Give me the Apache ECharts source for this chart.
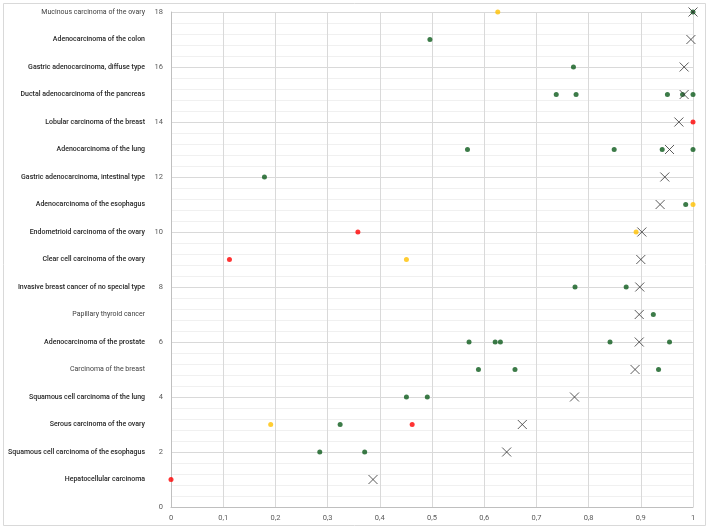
<!DOCTYPE html>
<html>
<head>
<meta charset="utf-8">
<script src="https://cdn.jsdelivr.net/npm/echarts@6/dist/echarts.min.js"></script>
<style>
html,body{margin:0;padding:0;background:#fff;}
#chart{width:709px;height:529px;}
</style>
</head>
<body>
<div id="chart"></div>
<script>
// Category names (y = 1 .. 18)
const categories = [
  "Hepatocellular carcinoma",
  "Squamous cell carcinoma of the esophagus",
  "Serous carcinoma of the ovary",
  "Squamous cell carcinoma of the lung",
  "Carcinoma of the breast",
  "Adenocarcinoma of the prostate",
  "Papillary thyroid cancer",
  "Invasive breast cancer of no special type",
  "Clear cell carcinoma of the ovary",
  "Endometrioid carcinoma of the ovary",
  "Adenocarcinoma of the esophagus",
  "Gastric adenocarcinoma, intestinal type",
  "Adenocarcinoma of the lung",
  "Lobular carcinoma of the breast",
  "Ductal adenocarcinoma of the pancreas",
  "Gastric adenocarcinoma, diffuse type",
  "Adenocarcinoma of the colon",
  "Mucinous carcinoma of the ovary"
];

const greenPoints = [
  [1.0,18],[0.496,17],[0.771,16],
  [0.738,15],[0.776,15],[0.951,15],[0.980,15],[1.0,15],
  [0.568,13],[0.849,13],[0.941,13],[1.0,13],
  [0.179,12],[0.986,11],
  [0.774,8],[0.872,8],[0.924,7],
  [0.571,6],[0.621,6],[0.631,6],[0.841,6],[0.955,6],
  [0.589,5],[0.659,5],[0.934,5],
  [0.451,4],[0.491,4],[0.324,3],[0.285,2],[0.371,2]
];
const redPoints = [[1.0,14],[0.358,10],[0.112,9],[0.462,3],[0,1]];
const orangePoints = [[0.626,18],[1.0,11],[0.891,10],[0.451,9],[0.191,3]];
const crossPoints = [
  [1.0,18],[0.996,17],[0.983,16],[0.983,15],[0.973,14],[0.955,13],
  [0.946,12],[0.937,11],[0.902,10],[0.900,9],[0.898,8],[0.897,7],
  [0.897,6],[0.889,5],[0.773,4],[0.673,3],[0.643,2],[0.387,1]
];

const xTicks = [0,0.1,0.2,0.3,0.4,0.5,0.6,0.7,0.8,0.9,1];
const yTicks = [0,2,4,6,8,10,12,14,16,18];

// style-only: labels drawn in regular weight
const regularLabels = ["Mucinous carcinoma of the ovary","Carcinoma of the breast","Papillary thyroid cancer"];

const FONT = '"Liberation Sans Narrow", "Roboto", sans-serif';

const chart = echarts.init(document.getElementById('chart'), null, {renderer:'canvas'});
chart.setOption({
  animation:false,
  backgroundColor:'#fff',
  graphic:[{type:'rect',shape:{x:3.5,y:3.5,width:702,height:522},style:{fill:'none',stroke:'#d9d9d9',lineWidth:1},silent:true,z:-1}],
  grid:{left:171,right:16,top:12,bottom:22,containLabel:false,outerBoundsMode:'none'},
  xAxis:{
    type:'value',min:0,max:1,interval:0.1,
    axisLine:{show:true,lineStyle:{color:'#bfbfbf'}},
    axisTick:{show:false},
    axisLabel:{color:'#595959',fontSize:7.5,fontFamily:FONT,margin:7,
      formatter:v=>{const t=xTicks.find(k=>Math.abs(k-v)<1e-9);return t===undefined?'':String(+t.toFixed(1)).replace('.',',');}},
    splitLine:{show:true,lineStyle:{color:'#d9d9d9'}}
  },
  yAxis:[{
    type:'value',min:0,max:18,interval:2,
    axisLine:{show:true,lineStyle:{color:'#bfbfbf'}},
    axisTick:{show:false},
    axisLabel:{color:'#595959',fontSize:7.5,fontFamily:FONT,margin:8,
      formatter:v=>yTicks.includes(v)?String(v):''},
    splitLine:{show:true,lineStyle:{color:'#d9d9d9'}},
    minorTick:{show:false,splitNumber:5},
    minorSplitLine:{show:true,lineStyle:{color:'#f0f0f0'}}
  },{
    type:'value',min:0,max:18,interval:1,position:'left',
    axisLine:{show:false},axisTick:{show:false},splitLine:{show:false},
    axisLabel:{margin:26,fontFamily:FONT,fontSize:7,
      formatter:v=>{
        const name=categories[v-1];
        if(!name) return '';
        return regularLabels.includes(name)?'{n|'+name+'}':'{b|'+name+'}';
      },
      rich:{
        b:{color:'#262626',fontWeight:500,fontSize:7,fontFamily:FONT},
        n:{color:'#404040',fontWeight:'normal',fontSize:7,fontFamily:FONT}
      }
    }
  }],
  series:[
    {type:'scatter',data:greenPoints,symbol:'circle',symbolSize:5,clip:false,itemStyle:{color:'#0b5a1a'},z:2},
    {type:'scatter',data:redPoints,symbol:'circle',symbolSize:5,clip:false,itemStyle:{color:'#ff0000'},z:2},
    {type:'scatter',data:orangePoints,symbol:'circle',symbolSize:5,clip:false,itemStyle:{color:'#ffc000'},z:2},
    {type:'scatter',data:crossPoints,symbol:'path://M0,0L10,10M10,0L0,10',symbolSize:9,clip:false,
      itemStyle:{color:'rgba(0,0,0,0)',borderColor:'#333333',borderWidth:1},z:3}
  ]
});
</script>
</body>
</html>
